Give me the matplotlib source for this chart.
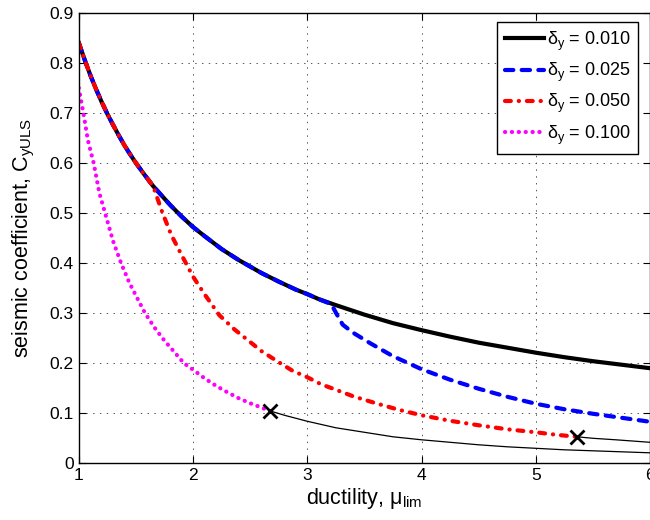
import matplotlib
matplotlib.use("Agg")
import matplotlib.pyplot as plt

plt.rcParams['font.family'] = ['Liberation Sans', 'DejaVu Sans']
plt.rcParams['mathtext.fontset'] = 'custom'
plt.rcParams['mathtext.rm'] = 'Liberation Sans'
plt.rcParams['mathtext.it'] = 'Liberation Sans'

# delta_y = 0.010 (thick black)
mu_010 = [1.0, 1.05, 1.1, 1.15, 1.2, 1.25, 1.3, 1.35, 1.4, 1.45, 1.5, 1.57, 1.65,
          1.8, 1.9, 2.0, 2.1, 2.25, 2.4, 2.5, 2.6, 2.75, 2.9, 3.0, 3.1, 3.25,
          3.5, 3.75, 4.0, 4.25, 4.5, 4.75, 5.0, 5.25, 5.5, 5.75, 6.0]
c_010 = [0.840, 0.807, 0.776, 0.748, 0.722, 0.698, 0.676, 0.655, 0.635, 0.617,
         0.600, 0.578, 0.554, 0.516, 0.493, 0.472, 0.454, 0.428, 0.406, 0.393,
         0.380, 0.363, 0.347, 0.338, 0.328, 0.316, 0.297, 0.280, 0.266, 0.253,
         0.241, 0.231, 0.221, 0.212, 0.204, 0.197, 0.190]

# delta_y = 0.025 (blue dashed)
mu_025 = [1.0, 1.05, 1.1, 1.15, 1.2, 1.25, 1.3, 1.35, 1.4, 1.45, 1.5, 1.57, 1.65,
          1.8, 1.9, 2.0, 2.1, 2.25, 2.4, 2.5, 2.6, 2.75, 2.9, 3.0, 3.1, 3.21,
          3.26, 3.31, 3.4, 3.55, 3.65, 3.75, 4.0, 4.25, 4.5, 4.75, 5.0, 5.25,
          5.5, 5.75, 6.0]
c_025 = [0.840, 0.807, 0.776, 0.748, 0.722, 0.698, 0.676, 0.655, 0.635, 0.617,
         0.600, 0.578, 0.554, 0.516, 0.493, 0.472, 0.454, 0.428, 0.406, 0.393,
         0.380, 0.363, 0.347, 0.338, 0.328, 0.318, 0.297, 0.277, 0.261, 0.240,
         0.227, 0.214, 0.188, 0.167, 0.149, 0.133, 0.119, 0.108, 0.099, 0.091,
         0.083]

# delta_y = 0.050 (red dash-dot)
mu_050 = [1.0, 1.05, 1.1, 1.15, 1.2, 1.25, 1.3, 1.35, 1.4, 1.45, 1.5, 1.57, 1.65,
          1.69, 1.73, 1.81, 1.90, 2.0, 2.1, 2.23, 2.36, 2.48, 2.6, 2.75, 2.87,
          3.0, 3.12, 3.25, 3.4, 3.6, 3.8, 4.0, 4.25, 4.5, 4.75, 5.0, 5.18, 5.36]
c_050 = [0.840, 0.807, 0.776, 0.748, 0.722, 0.698, 0.676, 0.655, 0.635, 0.617,
         0.600, 0.578, 0.554, 0.528, 0.502, 0.456, 0.416, 0.373, 0.338, 0.296,
         0.268, 0.246, 0.224, 0.202, 0.185, 0.172, 0.158, 0.147, 0.134, 0.120,
         0.107, 0.096, 0.085, 0.076, 0.068, 0.062, 0.057, 0.053]

# delta_y = 0.100 (magenta dotted)
mu_100 = [1.0, 1.04, 1.08, 1.13, 1.18, 1.23, 1.3, 1.37, 1.44, 1.5, 1.58, 1.66,
          1.75, 1.83, 1.92, 2.0, 2.1, 2.2, 2.3, 2.4, 2.5, 2.58, 2.67]
c_100 = [0.750, 0.700, 0.645, 0.600, 0.540, 0.500, 0.444, 0.400, 0.362, 0.335,
         0.300, 0.272, 0.245, 0.224, 0.200, 0.187, 0.170, 0.155, 0.142, 0.130,
         0.120, 0.113, 0.105]

# thin continuations past the limit points
mu_ext1 = [2.67, 2.8, 3.0, 3.25, 3.5, 3.75, 4.0, 4.25, 4.5, 4.75, 5.0, 5.25,
           5.5, 5.75, 6.0]
c_ext1 = [0.105, 0.096, 0.084, 0.071, 0.062, 0.053, 0.047, 0.042, 0.037, 0.033,
          0.030, 0.027, 0.025, 0.023, 0.021]
mu_ext2 = [5.36, 5.5, 5.7, 6.0]
c_ext2 = [0.053, 0.050, 0.047, 0.042]

mu_marks = [2.67, 5.36]
c_marks = [0.105, 0.053]

labels = [r'$\delta_y$ = 0.010', r'$\delta_y$ = 0.025',
          r'$\delta_y$ = 0.050', r'$\delta_y$ = 0.100']

fig = plt.figure(figsize=(6.5, 5.2), dpi=100)
ax = fig.add_axes([0.1212, 0.109, 0.8788, 0.8665])

ax.plot(mu_ext1, c_ext1, color='k', lw=0.9)
ax.plot(mu_ext2, c_ext2, color='k', lw=0.9)
ax.plot(mu_010, c_010, color='k', lw=3.0, label=labels[0])
ax.plot(mu_025, c_025, color='b', lw=3.0, ls=(0, (2.0, 2.0)),
        dash_capstyle='round', label=labels[1])
ax.plot(mu_050, c_050, color='r', lw=3.0, ls=(0, (1.4, 1.9, 0.05, 1.9)),
        dash_capstyle='round', label=labels[2])
ax.plot(mu_100, c_100, color='magenta', lw=3.0, ls=(0, (0.05, 1.6)),
        dash_capstyle='round', label=labels[3])
ax.plot(mu_marks, c_marks, 'x', color='k', ms=10, mew=2)

ax.set_xlim(1, 6)
ax.set_ylim(0, 0.9)
ax.set_xticks([1, 2, 3, 4, 5, 6])
ax.set_yticks([0, 0.1, 0.2, 0.3, 0.4, 0.5, 0.6, 0.7, 0.8, 0.9])
ax.set_yticklabels(['0', '0.1', '0.2', '0.3', '0.4', '0.5', '0.6', '0.7', '0.8', '0.9'])
ax.grid(True, ls=(0, (1.5, 5.5)), color='0.35', lw=0.7)
ax.tick_params(direction='in', top=True, right=True, length=5, labelsize=12.5)
for s in ax.spines.values():
    s.set_linewidth(1.0)

ax.set_xlabel(r'ductility, $\mu_{\mathrm{lim}}$', fontsize=15.5, labelpad=2)
ax.set_ylabel(r'seismic coefficient, C$_{\mathrm{yULS}}$', fontsize=15.5, labelpad=9)

leg = ax.legend(loc='upper right', bbox_to_anchor=(0.979, 0.979), borderaxespad=0,
                fontsize=13, fancybox=False, edgecolor='k', framealpha=1,
                handlelength=2.2, handletextpad=0.15, labelspacing=0.45,
                borderpad=0.4)
leg.get_frame().set_linewidth(1.0)

fig.savefig('out.png', dpi=100)
